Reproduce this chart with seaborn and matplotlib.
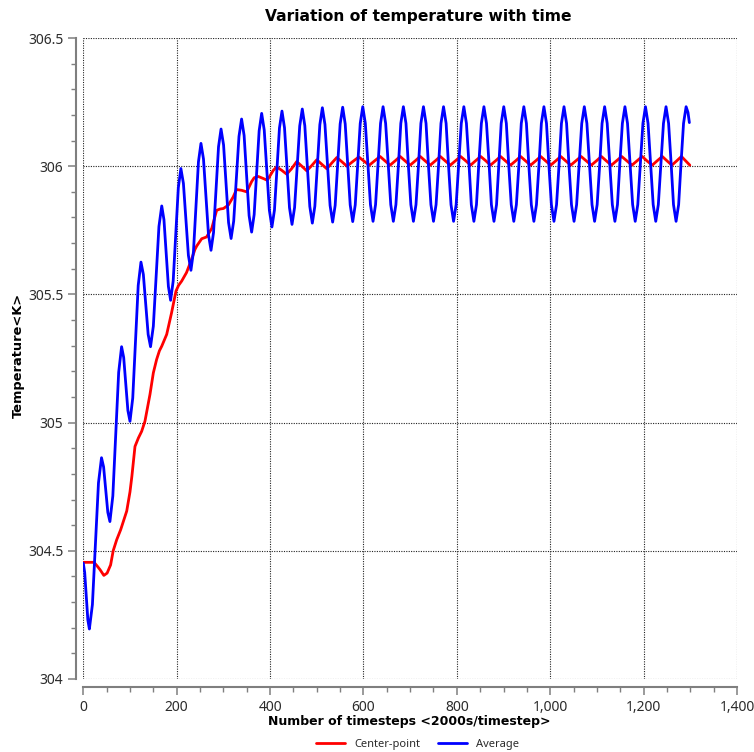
import matplotlib
matplotlib.use("Agg")
import matplotlib.pyplot as plt
from matplotlib.ticker import MultipleLocator, FuncFormatter
import seaborn as sns
import pandas as pd

# ---------------- data ----------------
avg_t = [0, 3, 6.5, 9.75, 13, 19.5, 26, 32.5, 39, 43.5, 48, 52.5, 57, 63.25, 69.5, 75.75,
         82, 86.5, 91, 95.5, 100, 105.9, 111.75, 117.6, 123.5, 128.6, 133.75, 138.9,
         144, 150, 156, 162, 168, 172.75, 177.5, 182.25, 187, 192.5, 198, 203.5,
         209, 214.4, 219.75, 225.1, 230.5, 235.9, 241.25, 246.6, 252, 257.4, 262.75, 268.1,
         273.5, 278.9, 284.25, 289.6, 295, 300.4, 305.75, 311.1, 316.5, 322.1, 327.75, 333.4,
         339, 344.4, 349.75, 355.1, 360.5, 365.9, 371.25, 376.6, 382, 387.5, 393, 398.5,
         404, 409.4, 414.75, 420.1, 425.5, 430.9, 436.25, 441.6, 447, 452.5, 458, 463.5,
         469, 474.4, 479.75, 485.1, 490.5, 495.9, 501.25, 506.6, 512, 517.5, 523, 528.5,
         534, 539.4, 544.75, 550.1, 555.5, 560.9, 566.25, 571.6, 577, 582.4, 587.75, 593.1,
         598.5, 604, 609.5, 615, 620.5, 625.9, 631.25, 636.6, 642,
         647.5, 653, 658.5, 664, 669.5, 675, 680, 685.5,
         691, 696, 701.5, 707, 712.5, 718, 723, 728.5,
         734, 739, 744.5, 750, 755.5, 761, 766, 771.5,
         777, 782, 787.5, 793, 798.5, 804, 809.5, 815,
         820.5, 826, 831, 836.5, 842, 847, 852.5, 858,
         863.5, 869, 874, 879.5, 885, 890, 895, 900.5,
         906, 911, 916.5, 922, 927.5, 933, 938, 943.5,
         949, 954, 959.5, 965, 970.5, 976, 981, 986.5,
         992, 997, 1002.5, 1008, 1013.5, 1019, 1024, 1029.5,
         1035, 1040, 1045.5, 1051, 1056.5, 1062, 1067.5, 1073,
         1078.5, 1084, 1089.5, 1095, 1100.5, 1106, 1111, 1116.5,
         1122, 1127.5, 1133, 1138.5, 1144, 1149, 1154.5, 1160,
         1165.5, 1171, 1176.5, 1182, 1187.5, 1193, 1198.5, 1204,
         1209.5, 1215, 1220.5, 1226, 1231.5, 1237, 1242.5, 1248,
         1253.5, 1259, 1264, 1269.5, 1275, 1280, 1285.5, 1291,
         1295, 1298]
avg_T = [304.452, 304.415, 304.32, 304.23, 304.195, 304.29, 304.529, 304.765, 304.863, 304.827, 304.738, 304.65,
         304.614, 304.714, 304.955, 305.196, 305.296, 305.254, 305.15, 305.047, 305.005, 305.096, 305.316, 305.535,
         305.626, 305.578, 305.461, 305.344, 305.296, 305.376, 305.57, 305.765, 305.845, 305.791, 305.661, 305.531,
         305.477, 305.552, 305.734, 305.916, 305.991, 305.933, 305.793, 305.652, 305.594, 305.666, 305.842, 306.017,
         306.089, 306.028, 305.881, 305.733, 305.672, 305.741, 305.909, 306.076, 306.145, 306.083, 305.932, 305.780,
         305.718, 305.786, 305.951, 306.116, 306.184, 306.12, 305.964, 305.807, 305.743, 305.811, 305.975, 306.138,
         306.206, 306.141, 305.985, 305.828, 305.763, 305.829, 305.989, 306.149, 306.215, 306.15, 305.994, 305.838,
         305.773, 305.839, 305.998, 306.157, 306.223, 306.158, 306.0, 305.843, 305.778, 305.844, 306.003, 306.162,
         306.228, 306.163, 306.005, 305.847, 305.782, 305.847, 306.006, 306.165, 306.23, 306.165, 306.007, 305.849,
         305.784, 305.849, 306.008, 306.167, 306.232, 306.167, 306.008, 305.85, 305.785, 305.85, 306.008, 306.167,
         306.232,
         306.167, 306.008, 305.85, 305.785, 305.85, 306.008, 306.167, 306.232,
         306.167, 306.008, 305.85, 305.785, 305.85, 306.008, 306.167, 306.232,
         306.167, 306.008, 305.85, 305.785, 305.85, 306.008, 306.167, 306.232,
         306.167, 306.008, 305.85, 305.785, 305.85, 306.008, 306.167, 306.232,
         306.167, 306.008, 305.85, 305.785, 305.85, 306.008, 306.167, 306.232,
         306.167, 306.008, 305.85, 305.785, 305.85, 306.008, 306.167, 306.232,
         306.167, 306.008, 305.85, 305.785, 305.85, 306.008, 306.167, 306.232,
         306.167, 306.008, 305.85, 305.785, 305.85, 306.008, 306.167, 306.232,
         306.167, 306.008, 305.85, 305.785, 305.85, 306.008, 306.167, 306.232,
         306.167, 306.008, 305.85, 305.785, 305.85, 306.008, 306.167, 306.232,
         306.167, 306.008, 305.85, 305.785, 305.85, 306.008, 306.167, 306.232,
         306.167, 306.008, 305.85, 305.785, 305.85, 306.008, 306.167, 306.232,
         306.167, 306.008, 305.85, 305.785, 305.85, 306.008, 306.167, 306.232,
         306.167, 306.008, 305.85, 305.785, 305.85, 306.008, 306.167, 306.232,
         306.167, 306.008, 305.85, 305.785, 305.85, 306.008, 306.167, 306.232,
         306.21, 306.17]

ctr_t = [0, 23, 30, 36, 44, 51, 58.5, 64, 71.5, 80, 87, 93, 100, 104, 110.7, 118, 125, 132,
         142.8, 150, 157, 163, 168, 178.6, 189, 198.5, 204, 210.7, 221, 232, 239, 243,
         253.5, 264, 275, 285.6, 293, 300, 310.5, 321, 328, 339, 350, 360.5, 366, 374.7,
         385.5, 394, 407, 414, 425, 435.5, 446, 457, 468, 478.5, 489, 500, 511, 521.5,
         532, 543, 554, 564.5, 577, 590, 601, 612.5, 624, 635.5,
         646, 657, 668, 678.5, 689, 700, 711, 721.5, 732, 743, 754, 764.5,
         775, 786, 797, 808, 819, 829.5, 840, 851, 862, 872, 883, 893.5,
         904, 915, 926, 936.5, 947, 958, 969, 979.5, 990, 1001, 1012, 1022.5,
         1033, 1044, 1055, 1066, 1077, 1088, 1099, 1109.5, 1120, 1131, 1142, 1153,
         1164, 1175, 1186, 1197, 1207, 1218.5, 1229, 1240, 1250, 1260.5, 1271, 1281,
         1290, 1299]
ctr_T = [304.455, 304.455, 304.44, 304.426, 304.404, 304.413, 304.445, 304.5, 304.543, 304.582, 304.621, 304.655,
         304.73, 304.79, 304.907, 304.94, 304.966, 305.005, 305.11, 305.194, 305.246, 305.28, 305.298, 305.344,
         305.428, 305.513, 305.535, 305.552, 305.585, 305.637, 305.675, 305.689, 305.717, 305.724, 305.757, 305.828,
         305.833, 305.835, 305.848, 305.88, 305.909, 305.906, 305.9, 305.94, 305.955, 305.96, 305.952, 305.945,
         305.984, 305.997, 305.984, 305.969, 305.99, 306.018, 306.0, 305.982, 306.002, 306.025, 306.007, 305.99,
         306.012, 306.034, 306.017, 306.0, 306.018, 306.036, 306.02, 306.004, 306.021, 306.038,
         306.021, 306.004, 306.021, 306.038, 306.021, 306.004, 306.021, 306.038, 306.021, 306.004, 306.021, 306.038,
         306.021, 306.004, 306.021, 306.038, 306.021, 306.004, 306.021, 306.038, 306.021, 306.004, 306.021, 306.038,
         306.021, 306.004, 306.021, 306.038, 306.021, 306.004, 306.021, 306.038, 306.021, 306.004, 306.021, 306.038,
         306.021, 306.004, 306.021, 306.038, 306.021, 306.004, 306.021, 306.038, 306.021, 306.004, 306.021, 306.038,
         306.021, 306.004, 306.021, 306.038, 306.021, 306.004, 306.021, 306.038, 306.021, 306.004, 306.021, 306.038,
         306.021, 306.004]

series_names = ["Center-point", "Average"]
series_colors = ["#ff0000", "#0000ff"]
x_ticks = [0, 200, 400, 600, 800, 1000, 1200, 1400]
y_ticks = [304, 304.5, 305, 305.5, 306, 306.5]

df = pd.concat([
    pd.DataFrame({"timestep": ctr_t, "temperature": ctr_T, "series": series_names[0]}),
    pd.DataFrame({"timestep": avg_t, "temperature": avg_T, "series": series_names[1]}),
], ignore_index=True)

# ---------------- style ----------------
sns.set_theme(style="white")
plt.rcParams["font.family"] = ["Noto Sans", "DejaVu Sans"]

W, H = 754, 752
fig = plt.figure(figsize=(W / 100, H / 100), dpi=100)
ax = fig.add_axes([83.3 / W, 1 - 679 / H, (737 - 83.3) / W, (679 - 38) / H])

sns.lineplot(data=df, x="timestep", y="temperature", hue="series",
             hue_order=series_names, palette=series_colors,
             estimator=None, sort=False, linewidth=2.0, legend=False, ax=ax)
for ln in ax.get_lines():
    ln.set_solid_joinstyle("round")
    ln.set_solid_capstyle("round")

ax.set_xlim(x_ticks[0], x_ticks[-1])
ax.set_ylim(y_ticks[0], y_ticks[-1])
ax.set_xticks(x_ticks)
ax.set_yticks(y_ticks)
ax.xaxis.set_minor_locator(MultipleLocator(50))
ax.yaxis.set_minor_locator(MultipleLocator(0.1))
ax.xaxis.set_major_formatter(FuncFormatter(lambda v, p: f"{v:,.0f}"))
ax.yaxis.set_major_formatter(FuncFormatter(lambda v, p: f"{v:g}"))

ax.grid(True, which="major", color="#222222", linestyle=(0, (1, 1.2)), linewidth=0.8)
ax.set_axisbelow(True)

for s in ["top", "right"]:
    ax.spines[s].set_visible(False)
ax.spines["left"].set_position(("outward", 5))
ax.spines["bottom"].set_position(("outward", 5.8))
for s in ["left", "bottom"]:
    ax.spines[s].set_color("#7f7f7f")
    ax.spines[s].set_linewidth(1.5)

ax.tick_params(axis="both", which="major", direction="out", length=6, width=1.1,
               color="#7f7f7f", labelsize=10, labelcolor="#2b2b2b", pad=3.5,
               left=True, bottom=True)
ax.tick_params(axis="both", which="minor", direction="out", length=3.5, width=1.0,
               color="#7f7f7f", left=True, bottom=True)

ax.set_xlabel("")
ax.set_ylabel("")
bold_family = ["DejaVu Sans"]
fig.text(418 / W, 1 - 17 / H, "Variation of temperature with time", family=bold_family,
         ha="center", va="center", fontsize=11.2, fontweight="bold", color="black")
fig.text(409 / W, 1 - 721 / H, "Number of timesteps <2000s/timestep>", family=bold_family,
         ha="center", va="center", fontsize=9, fontweight="bold", color="black")
fig.text(18 / W, 1 - 355 / H, "Temperature<K>", rotation=90, family=bold_family,
         ha="center", va="center", fontsize=9.4, fontweight="bold", color="black")

handles = ax.get_lines()[:2]
fig.legend(handles, series_names, loc="center", bbox_to_anchor=(417.5 / W, 1 - 744 / H),
           ncol=2, frameon=False, fontsize=8, handlelength=2.6, handletextpad=0.8,
           columnspacing=1.6, labelcolor="#2b2b2b")

fig.savefig("out.png", dpi=100)
